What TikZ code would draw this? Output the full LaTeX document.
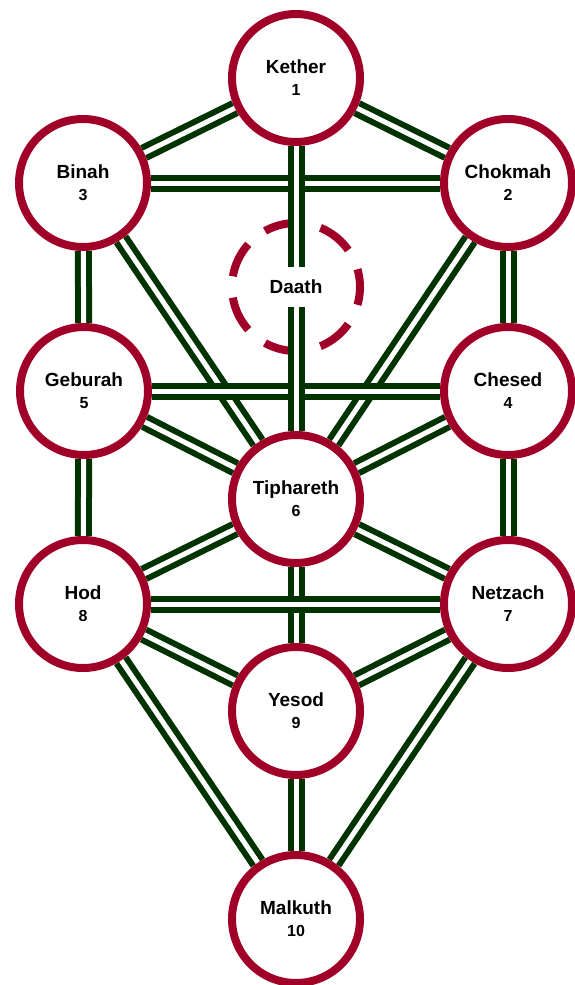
\documentclass[tikz,border=0pt]{standalone}
\usepackage{fontspec}
\setmainfont{Liberation Sans}
\usetikzlibrary{backgrounds}
\definecolor{treered}{RGB}{160,0,40}
\definecolor{pathgreen}{RGB}{0,51,0}
\tikzset{
  sefira/.style={circle, draw=treered, line width=8pt, fill=white, minimum size=128pt,
    inner sep=0pt, align=center, font=\bfseries\fontsize{19}{22}\selectfont},
  pathway/.style={draw=pathgreen, line width=6pt, double=white, double distance=5pt},
  daathring/.style={draw=treered, line width=8pt, dash pattern=on 36pt off 21.44pt, dash phase=18pt}
}
\newcommand{\sefnum}[1]{{\fontsize{16}{16}\selectfont #1}}
\begin{document}
\begin{tikzpicture}[x=1pt, y=-1pt]
    \useasboundingbox (0,0) rectangle (574,985);
    \node [sefira] (kether) at (296,78) {Kether\\\sefnum{1}};
    \node [sefira] (chokmah) at (508,183) {Chokmah\\\sefnum{2}};
    \node [sefira] (binah) at (83,183) {Binah\\\sefnum{3}};
    \node [font=\bfseries\fontsize{19}{22}\selectfont, minimum height=40pt, inner sep=0pt] (daath) at (296,287) {Daath};
    \node [sefira] (chesed) at (508,391) {Chesed\\\sefnum{4}};
    \node [sefira] (geburah) at (84,391) {Geburah\\\sefnum{5}};
    \node [sefira] (tiphareth) at (296,499) {Tiphareth\\\sefnum{6}};
    \node [sefira] (netzach) at (508,604) {Netzach\\\sefnum{7}};
    \node [sefira] (hod) at (83,604) {Hod\\\sefnum{8}};
    \node [sefira] (yesod) at (296,711) {Yesod\\\sefnum{9}};
    \node [sefira] (malkuth) at (296,919) {Malkuth\\\sefnum{10}};
    \begin{scope}[on background layer]
      \draw [daathring] (daath.center) circle [radius=64pt];
      \foreach \a/\b in {kether/binah, kether/chokmah, binah/chokmah, binah/geburah,
          binah/tiphareth, chokmah/chesed, chokmah/tiphareth, geburah/chesed,
          geburah/tiphareth, chesed/tiphareth, geburah/hod, chesed/netzach,
          tiphareth/hod, tiphareth/netzach, tiphareth/yesod, hod/netzach,
          hod/yesod, netzach/yesod, hod/malkuth, netzach/malkuth, yesod/malkuth}
        \draw [pathway] (\a) -- (\b);
      \draw [pathway] (kether) -- (daath);
      \draw [pathway] (daath) -- (tiphareth);
    \end{scope}
\end{tikzpicture}
\end{document}
